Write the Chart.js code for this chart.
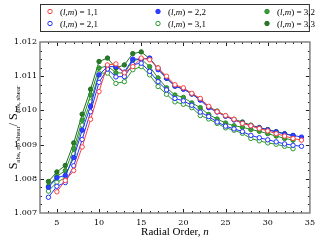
<!DOCTYPE html>
<html>
<head>
<meta charset="utf-8">
<script src="https://cdn.jsdelivr.net/npm/chart.js@4/dist/chart.umd.min.js"></script>
<style>
  html, body { margin: 0; padding: 0; background: #fff; }
</style>
</head>
<body>
<canvas id="myChart" width="320" height="240"></canvas>
<script>
// radial order n = 4 .. 34
const orders = [4, 5, 6, 7, 8, 9, 10, 11, 12, 13, 14, 15, 16, 17, 18, 19, 20, 21, 22, 23, 24, 25, 26, 27, 28, 29, 30, 31, 32, 33, 34];

const lm11 = [null, 1.00762, 1.00795, 1.00824, 1.00893, 1.00974, 1.01055, 1.01133, 1.01136, 1.01110, 1.01128, 1.01153, 1.01148, 1.01124, 1.01100, 1.01075, 1.01066, 1.01050, 1.01035, 1.01012, 1.00996, 1.00985, 1.00974, 1.00962, 1.00955, 1.00947, 1.00940, 1.00932, 1.00925, 1.00918, 1.00913];
const lm21 = [1.00746, 1.00778, 1.00789, 1.00838, 1.00915, 1.00996, 1.01082, 1.01121, 1.01098, 1.01099, 1.01134, 1.01138, 1.01114, 1.01084, 1.01060, 1.01035, 1.01028, 1.01015, 1.00995, 1.00982, 1.00966, 1.00954, 1.00946, 1.00938, 1.00927, 1.00920, 1.00914, 1.00908, 1.00902, 1.00898, 1.00895];
const lm22 = [1.00775, 1.00803, 1.00810, 1.00862, 1.00942, 1.01012, 1.01104, 1.01128, 1.01128, 1.01112, 1.01150, 1.01150, 1.01153, 1.01119, 1.01094, 1.01071, 1.01062, 1.01048, 1.01030, 1.01008, 1.00995, 1.00983, 1.00972, 1.00963, 1.00955, 1.00949, 1.00943, 1.00937, 1.00931, 1.00927, 1.00922];
const lm31 = [1.00764, 1.00790, 1.00803, 1.00873, 1.00957, 1.01025, 1.01109, 1.01109, 1.01079, 1.01084, 1.01119, 1.01128, 1.01104, 1.01070, 1.01047, 1.01025, 1.01018, 1.01008, 1.00985, 1.00975, 1.00962, 1.00949, 1.00942, 1.00933, 1.00918, 1.00911, 1.00905, 1.00901, 1.00895, 1.00888, null];
const lm32 = [1.00778, 1.00807, 1.00824, 1.00888, 1.00971, 1.01045, 1.01124, 1.01130, 1.01110, 1.01109, 1.01146, 1.01150, 1.01128, 1.01095, 1.01066, 1.01045, 1.01038, 1.01022, 1.01008, 1.00988, 1.00975, 1.00963, 1.00955, 1.00951, 1.00944, 1.00939, 1.00932, 1.00925, 1.00918, 1.00913, null];
const lm33 = [1.00792, 1.00820, 1.00839, 1.00905, 1.00989, 1.01062, 1.01143, 1.01153, 1.01124, 1.01133, 1.01166, 1.01171, 1.01151, 1.01124, 1.01094, 1.01071, 1.01063, 1.01048, 1.01033, 1.01010, 1.00998, 1.00984, 1.00974, 1.00966, 1.00957, 1.00950, 1.00944, 1.00938, 1.00932, 1.00926, null];

const xTicks = [5, 10, 15, 20, 25, 30, 35];
const yTicks = [1.007, 1.008, 1.009, 1.010, 1.011, 1.012];

const SERIF = "'Liberation Serif', 'DejaVu Serif', serif";

function points(arr) {
  let out = [];
  orders.forEach((n, i) => {
    if (arr[i] !== null) out.push({ x: n, y: arr[i] });
  });
  return out;
}

function series(label, arr, color, fill) {
  return {
    label: label,
    data: points(arr),
    borderColor: color,
    backgroundColor: color,
    borderWidth: 1,
    pointRadius: 2.2,
    pointBorderWidth: 1,
    pointBackgroundColor: fill,
    pointBorderColor: color,
    tension: 0
  };
}

// draws a row of text pieces [text, font, dy]
function richText(ctx, x, y, parts) {
  let cx = x;
  parts.forEach((p) => {
    ctx.font = p[1];
    ctx.fillText(p[0], cx, y + (p[2] || 0));
    cx += ctx.measureText(p[0]).width;
  });
  return cx - x;
}

function richWidth(ctx, parts) {
  let w = 0;
  parts.forEach((p) => {
    ctx.font = p[1];
    w += ctx.measureText(p[0]).width;
  });
  return w;
}

const framePlugin = {
  id: 'frame',
  afterDatasetsDraw(chart) {
    const ctx = chart.ctx;
    const a = chart.chartArea;
    const xs = chart.scales.x;
    const ys = chart.scales.y;
    ctx.save();

    // ticks pointing inward, on all four sides
    ctx.strokeStyle = '#222';
    ctx.lineWidth = 1;
    ctx.beginPath();
    for (let n = 4; n <= 34; n++) {
      let px = Math.round(xs.getPixelForValue(n)) + 0.5;
      let len = (n % 5 === 0) ? 4 : 2;
      ctx.moveTo(px, a.bottom); ctx.lineTo(px, a.bottom - len);
      ctx.moveTo(px, a.top); ctx.lineTo(px, a.top + len);
    }
    for (let k = 1; k < 20; k++) {
      let v = 1.007 + k * 0.00025;
      let py = Math.round(ys.getPixelForValue(v)) + 0.5;
      let len = (k % 4 === 0) ? 4 : 2;
      ctx.moveTo(a.left, py); ctx.lineTo(a.left + len, py);
      ctx.moveTo(a.right, py); ctx.lineTo(a.right - len, py);
    }
    ctx.stroke();

    // frame
    ctx.strokeStyle = '#808080';
    ctx.lineWidth = 1.5;
    ctx.strokeRect(a.left, a.top, a.right - a.left, a.bottom - a.top);

    ctx.fillStyle = '#000';
    ctx.textBaseline = 'alphabetic';
    ctx.textAlign = 'left';

    // x title
    const xt = [['Radial Order, ', '11px ' + SERIF], ['n', 'italic 11px ' + SERIF]];
    const xw = richWidth(ctx, xt);
    richText(ctx, (a.left + a.right) / 2 - xw / 2, 235, xt);

    // y title
    const yt = [
      ['S', '12px ' + SERIF],
      ['abs, no shear', '7px ' + SERIF, 2.5],
      ['/ ', '12px ' + SERIF],
      ['S', '12px ' + SERIF],
      ['abs, shear', '7px ' + SERIF, 2.5]
    ];
    const yw = richWidth(ctx, yt);
    ctx.save();
    ctx.translate(17, (a.top + a.bottom) / 2);
    ctx.rotate(-Math.PI / 2);
    richText(ctx, -yw / 2, 0, yt);
    ctx.restore();

    // legend box, three columns of two
    ctx.strokeStyle = '#333';
    ctx.lineWidth = 1;
    ctx.strokeRect(a.left + 0.5, 4.5, a.right - a.left - 1, 27);
    const colX = [50, 158, 267];
    const rowY = [11.5, 23.5];
    chart.data.datasets.forEach((ds, i) => {
      let mx = colX[Math.floor(i / 2)];
      let my = rowY[i % 2];
      ctx.beginPath();
      ctx.arc(mx, my, 2.2, 0, Math.PI * 2);
      ctx.fillStyle = ds.pointBackgroundColor;
      ctx.fill();
      ctx.strokeStyle = ds.pointBorderColor;
      ctx.stroke();
      ctx.fillStyle = '#000';
      const nums = ds.label.split(',');
      richText(ctx, mx + 10, my + 3.2, [
        ['(', '9px ' + SERIF],
        ['l', 'italic 9px ' + SERIF],
        [',', '9px ' + SERIF],
        ['m', 'italic 9px ' + SERIF],
        [') = ' + nums[0] + ',' + nums[1], '9px ' + SERIF]
      ]);
    });

    ctx.restore();
  }
};

const ctx = document.getElementById('myChart').getContext('2d');
const chart = new Chart(ctx, {
  type: 'line',
  data: {
    datasets: [
      series('1,1', lm11, '#ff4040', '#ffffff'),
      series('2,1', lm21, '#2030ff', '#ffffff'),
      series('2,2', lm22, '#2030ff', '#3040ff'),
      series('3,1', lm31, '#2a9a2a', '#ffffff'),
      series('3,2', lm32, '#2a8a2a', '#3c9c3c'),
      series('3,3', lm33, '#1e6e1e', '#2a7a2a')
    ]
  },
  options: {
    responsive: false,
    animation: false,
    layout: { padding: { top: 42, right: 7, left: 0, bottom: 0 } },
    plugins: {
      legend: { display: false },
      tooltip: { enabled: false }
    },
    scales: {
      x: {
        type: 'linear',
        min: 3,
        max: 35,
        afterBuildTicks: (scale) => { scale.ticks = xTicks.map((v) => ({ value: v })); },
        afterFit: (scale) => { scale.height = 27; },
        grid: { display: false, drawTicks: false },
        border: { display: false },
        ticks: {
          padding: 5,
          color: '#000',
          font: { family: 'DejaVu Serif', size: 8 },
          maxRotation: 0
        }
      },
      y: {
        type: 'linear',
        min: 1.007,
        max: 1.012,
        afterBuildTicks: (scale) => { scale.ticks = yTicks.map((v) => ({ value: v })); },
        afterFit: (scale) => { scale.width = 40; },
        grid: { display: false, drawTicks: false },
        border: { display: false },
        ticks: {
          padding: 3,
          color: '#000',
          font: { family: 'DejaVu Serif', size: 8 },
          callback: (v) => v.toFixed(3)
        }
      }
    }
  },
  plugins: [framePlugin]
});
</script>
</body>
</html>
